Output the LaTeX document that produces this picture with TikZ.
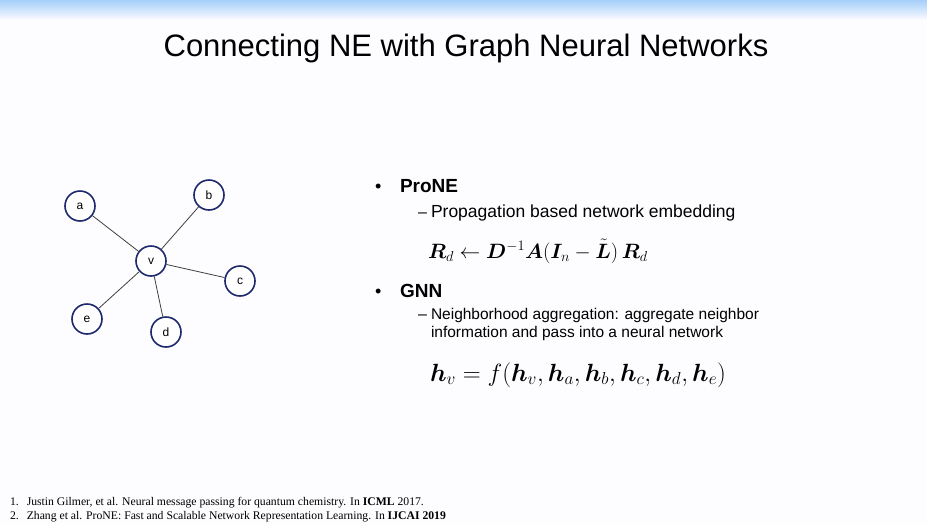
\documentclass[tikz,border=0pt]{standalone}
\usepackage{amsmath,bm}
\usepackage{fontspec}
\setmainfont{Liberation Sans}
\newfontfamily\serifft{Liberation Serif}
\definecolor{navy}{HTML}{1F2A6E}
\definecolor{topblue}{HTML}{A6CFFA}
\definecolor{bgwhite}{HTML}{FDFCFF}
\begin{document}
\begin{tikzpicture}[x=1pt,y=-1pt,
  gnode/.style={circle,draw=navy,line width=1.6pt,fill=white,minimum size=30pt,inner sep=0pt,font=\fontsize{12}{14}\selectfont},
  gedge/.style={draw=black!75,line width=0.8pt},
  txt/.style={anchor=base west,inner sep=0pt,outer sep=0pt}]
\useasboundingbox (0,0) rectangle (927,523);
\fill[bgwhite] (0,0) rectangle (927,523);
\shade[top color=topblue,bottom color=bgwhite] (0,0) rectangle (927,20);
% title
\node[anchor=base,inner sep=0pt] (title) at (466,56) {\fontsize{31}{36}\selectfont Connecting NE with Graph Neural Networks};
% graph
\node[gnode] (v) at (151,261) {v};
\node[gnode] (a) at (80,206) {a};
\node[gnode] (b) at (209,195) {b};
\node[gnode] (c) at (240,281) {c};
\node[gnode] (e) at (87,319) {e};
\node[gnode] (d) at (166,332) {d};
\foreach \n in {a,b,c,d,e} \draw[gedge] (v) -- (\n);
% bullets
\node[txt] (b1) at (375,192) {\fontsize{18}{22}\selectfont •};
\node[txt] (prone) at (400,192) {\fontsize{19}{23}\selectfont\bfseries ProNE};
\node[txt] (d1) at (418,217) {\fontsize{16}{20}\selectfont –};
\node[txt] (t1) at (431,217) {\fontsize{17.5}{21}\selectfont Propagation based network embedding};
\node[txt] (eq1) at (428,258) {\fontsize{22.4}{26}\selectfont $\bm{R}_d \leftarrow \bm{D}^{-1}\bm{A}(\bm{I}_n - \tilde{\bm{L}})\,\bm{R}_d$};
\node[txt] (b2) at (375,297) {\fontsize{18}{22}\selectfont •};
\node[txt] (gnn) at (400,297) {\fontsize{19}{23}\selectfont\bfseries GNN};
\node[txt] (d2) at (418,319) {\fontsize{16}{20}\selectfont –};
\node[txt] (t2) at (431,319) {\fontsize{15.5}{19}\selectfont Neighborhood aggregation: aggregate neighbor};
\node[txt] (t3) at (431,337) {\fontsize{15.5}{19}\selectfont information and pass into a neural network};
\node[txt] (eq2) at (430,381) {\fontsize{23.5}{27}\selectfont $\bm{h}_v = f(\bm{h}_v, \bm{h}_a, \bm{h}_b, \bm{h}_c, \bm{h}_d, \bm{h}_e)$};
% footnotes
\node[txt] (f1) at (10,505) {\serifft\fontsize{11.7}{14}\selectfont 1.\hspace{8pt}Justin Gilmer, et al. Neural message passing for quantum chemistry. In \textbf{ICML} 2017.};
\node[txt] (f2) at (10,519) {\serifft\fontsize{11.7}{14}\selectfont 2.\hspace{8pt}Zhang et al. ProNE: Fast and Scalable Network Representation Learning. In \textbf{IJCAI 2019}};
\end{tikzpicture}
\end{document}
